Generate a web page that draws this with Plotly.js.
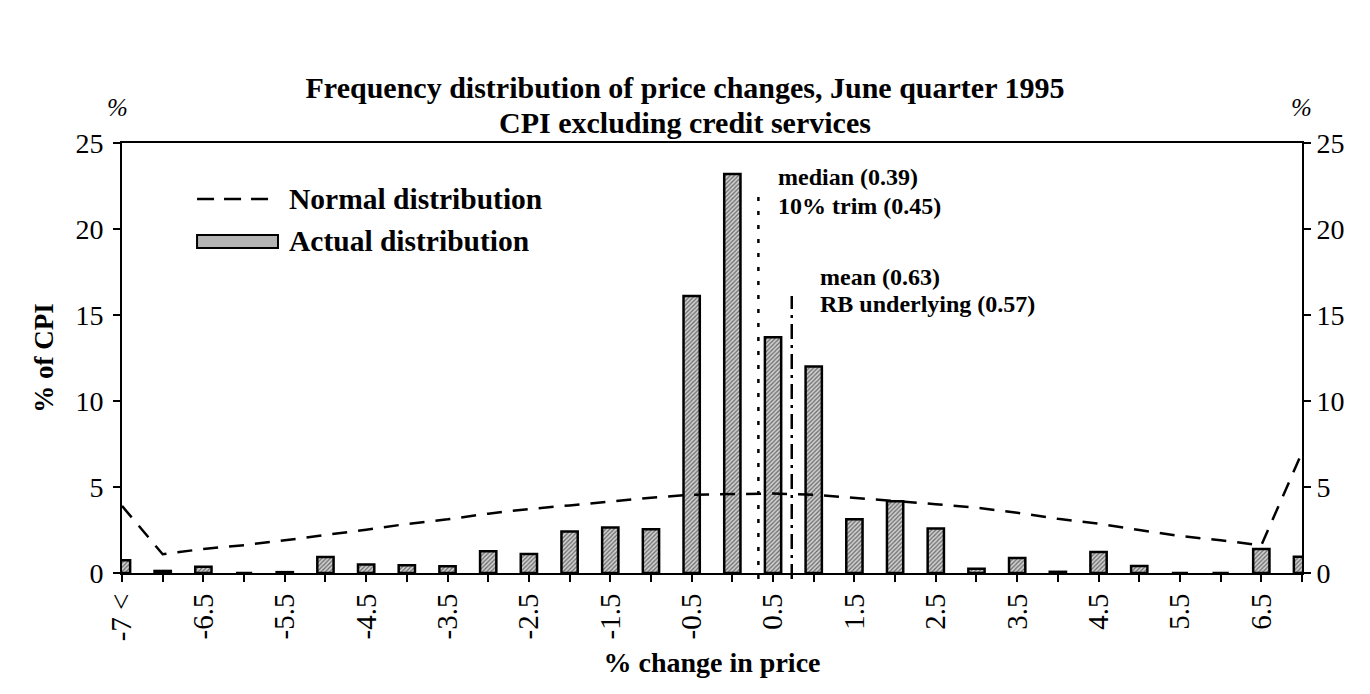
<!DOCTYPE html>
<html>
<head>
<meta charset="utf-8">
<script src="https://cdn.plot.ly/plotly-3.0.1.min.js"></script>
<style>html,body{margin:0;padding:0;background:#fff;}#chart{width:1370px;height:694px;}</style>
</head>
<body>
<div id="chart"></div>
<script>
// Bin positions (first bin is the "-7 <" tail bin, last bin is the upper tail)
const binX = [-7.5, -7, -6.5, -6, -5.5, -5, -4.5, -4, -3.5, -3, -2.5, -2, -1.5, -1, -0.5,
              0, 0.5, 1, 1.5, 2, 2.5, 3, 3.5, 4, 4.5, 5, 5.5, 6, 6.5, 7];
const tickLabels = ["-7 <", "", "-6.5", "", "-5.5", "", "-4.5", "", "-3.5", "", "-2.5", "", "-1.5", "", "-0.5",
                    "", "0.5", "", "1.5", "", "2.5", "", "3.5", "", "4.5", "", "5.5", "", "6.5", ""];
// Actual distribution (% of CPI)
const actualDist = [0.74, 0.12, 0.37, 0, 0.05, 0.93, 0.49, 0.45, 0.39, 1.26, 1.1, 2.42, 2.64, 2.54, 16.1,
                    23.2, 13.7, 12.0, 3.12, 4.17, 2.58, 0.25, 0.87, 0.07, 1.22, 0.4, 0, 0, 1.4, 0.95];
// Normal distribution (% of CPI)
const normalDist = [3.9, 1.09, 1.4, 1.62, 1.9, 2.2, 2.52, 2.85, 3.12, 3.45, 3.72, 3.93, 4.15, 4.38, 4.55,
                    4.6, 4.62, 4.55, 4.38, 4.2, 4.0, 3.8, 3.5, 3.15, 2.87, 2.5, 2.15, 1.9, 1.61, 7.0];
// Summary-statistic marker lines (position on the x scale, top value)
const statLineX = [0.32, 0.73];
const statLineTop = [22.4, 16.1];
const statLineDash = ["4px,10px", "15px,6px,3px,6px"];
const statLabels = [["median (0.39)", "10% trim (0.45)"], ["mean (0.63)", "RB underlying (0.57)"]];
const titleLines = ["Frequency distribution of price changes, June quarter 1995", "CPI excluding credit services"];

const FONT = "Liberation Serif, Times New Roman, serif";

const traces = [
  {
    type: "bar", x: binX, y: actualDist, width: 0.2, name: "Actual distribution",
    marker: {
      color: "#b8b8b8",
      line: {color: "#000", width: 2.5},
      pattern: {shape: "/", fgcolor: "#6a6a6a", bgcolor: "#cfcfcf", size: 3, solidity: 0.4}
    },
    showlegend: false, hoverinfo: "x+y"
  },
  {
    type: "scatter", mode: "lines", x: binX, y: normalDist, yaxis: "y2", name: "Normal distribution",
    line: {color: "#000", width: 2.5, dash: "15px,11px"},
    showlegend: false
  }
];

const shapes = [];
const annotations = [];
statLineX.forEach((sx, i) => {
  shapes.push({type: "line", xref: "x", yref: "paper", x0: sx, x1: sx, y0: -0.014, y1: statLineTop[i] / 25,
               line: {color: "#000", width: 2.5, dash: statLineDash[i]}});
});
const ANN = {family: FONT, size: 24, color: "#000"};
annotations.push(
  {xref: "paper", yref: "paper", x: 0.5542, y: 0.921, xanchor: "left", yanchor: "middle", showarrow: false,
   text: "<b>" + statLabels[0][0] + "</b>", font: ANN},
  {xref: "paper", yref: "paper", x: 0.5542, y: 0.8535, xanchor: "left", yanchor: "middle", showarrow: false,
   text: "<b>" + statLabels[0][1] + "</b>", font: ANN},
  {xref: "paper", yref: "paper", x: 0.5898, y: 0.688, xanchor: "left", yanchor: "middle", showarrow: false,
   text: "<b>" + statLabels[1][0] + "</b>", font: ANN},
  {xref: "paper", yref: "paper", x: 0.5898, y: 0.6256, xanchor: "left", yanchor: "middle", showarrow: false,
   text: "<b>" + statLabels[1][1] + "</b>", font: ANN}
);
// custom legend
shapes.push(
  {type: "line", xref: "paper", yref: "paper", x0: 0.0636, x1: 0.1271, y0: 0.8698, y1: 0.8698,
   line: {color: "#000", width: 2.5, dash: "17px,10px"}},
  {type: "rect", xref: "paper", yref: "paper", x0: 0.0636, x1: 0.1322, y0: 0.7558, y1: 0.786,
   fillcolor: "#b4b4b4", line: {color: "#000", width: 2}}
);
const LEG = {family: FONT, size: 29.5, color: "#000"};
annotations.push(
  {xref: "paper", yref: "paper", x: 0.1398, y: 0.8698, xanchor: "left", yanchor: "middle", showarrow: false,
   text: "<b>Normal distribution</b>", font: LEG},
  {xref: "paper", yref: "paper", x: 0.1398, y: 0.771, xanchor: "left", yanchor: "middle", showarrow: false,
   text: "<b>Actual distribution</b>", font: LEG}
);
// unit labels
annotations.push(
  {xref: "paper", yref: "paper", x: -0.004, y: 1.0837, xanchor: "center", yanchor: "middle", showarrow: false,
   text: "<i>%</i>", font: {family: FONT, size: 25, color: "#000"}},
  {xref: "paper", yref: "paper", x: 0.9992, y: 1.0837, xanchor: "center", yanchor: "middle", showarrow: false,
   text: "<i>%</i>", font: {family: FONT, size: 25, color: "#000"}}
);
// second title line
annotations.push(
  {xref: "paper", yref: "paper", x: 0.4771, y: (573 - 123) / 430, xanchor: "center", yanchor: "middle", showarrow: false,
   text: "<b>" + titleLines[1] + "</b>", font: {family: FONT, size: 30, color: "#000"}}
);

const yAxisCommon = {
  range: [0, 25], tickvals: [0, 5, 10, 15, 20, 25], ticks: "outside", ticklen: 7, tickwidth: 2,
  tickcolor: "#000", showline: true, linecolor: "#000", linewidth: 2, showgrid: false, zeroline: false,
  tickfont: {family: FONT, size: 28, color: "#000"}, fixedrange: true
};

const layout = {
  width: 1370, height: 694,
  paper_bgcolor: "#fff", plot_bgcolor: "#fff",
  margin: {l: 122, r: 68, t: 143, b: 121},
  title: {
    text: "<b>" + titleLines[0] + "</b>",
    x: 0.5, xref: "container", xanchor: "center", y: 1 - 87 / 694, yref: "container", yanchor: "middle",
    font: {family: FONT, size: 30, color: "#000"}
  },
  xaxis: {
    range: [-7.5, 7], tickvals: binX, ticktext: tickLabels, tickangle: -90,
    ticks: "outside", ticklen: 7, tickwidth: 2, tickcolor: "#000",
    showline: true, linecolor: "#000", linewidth: 2, mirror: true,
    showgrid: false, zeroline: false,
    tickfont: {family: FONT, size: 29, color: "#000"},
    title: {text: "<b>% change in price</b>", font: {family: FONT, size: 28, color: "#000"}, standoff: 12}
  },
  yaxis: Object.assign({}, yAxisCommon, {
    side: "left", ticklabelstandoff: 4,
    title: {text: "<b>% of CPI</b>", font: {family: FONT, size: 27, color: "#000"}, standoff: 14}
  }),
  yaxis2: Object.assign({}, yAxisCommon, {side: "right", overlaying: "y"}),
  showlegend: false,
  bargap: 0,
  shapes: shapes,
  annotations: annotations
};

Plotly.newPlot("chart", traces, layout, {displayModeBar: false, staticPlot: true});
</script>
</body>
</html>
